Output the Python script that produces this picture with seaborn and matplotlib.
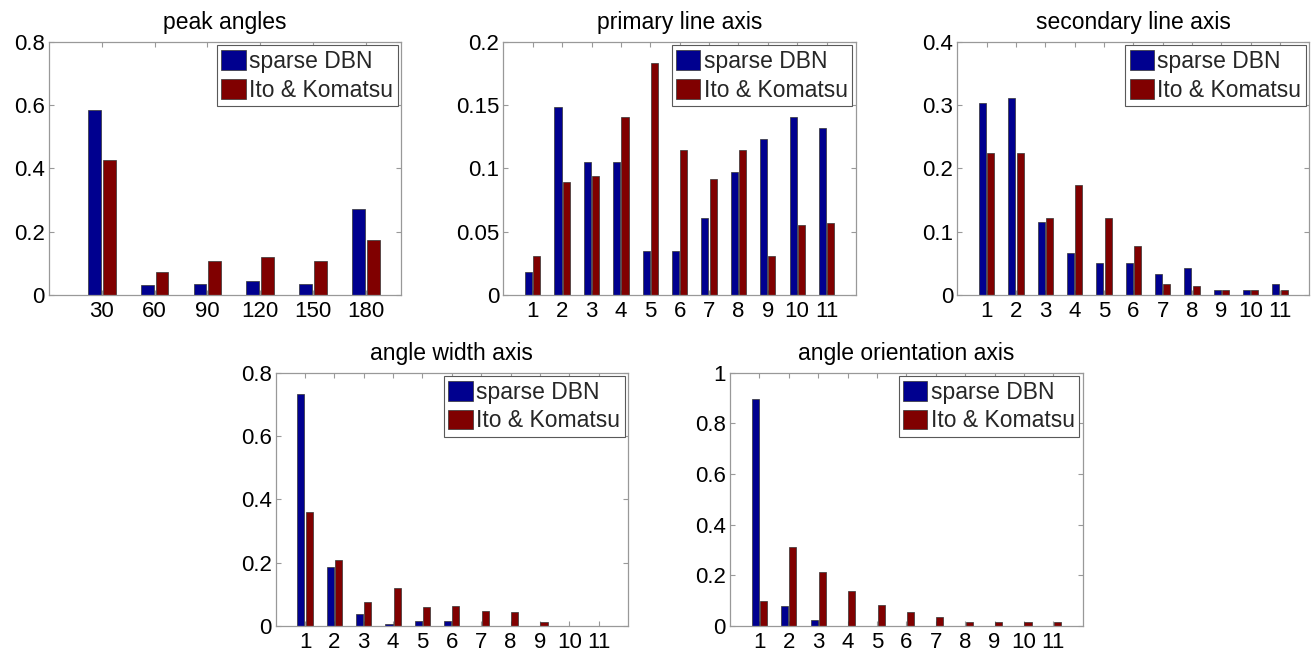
import matplotlib
matplotlib.use("Agg")
import matplotlib.pyplot as plt
import pandas as pd
import seaborn as sns
from matplotlib.ticker import FuncFormatter, FixedLocator

# ---------------- data ----------------
methods = ["sparse DBN", "Ito & Komatsu"]

peak_cats = ["30", "60", "90", "120", "150", "180"]
peak_dbn = [0.586, 0.032, 0.035, 0.045, 0.036, 0.271]
peak_ito = [0.427, 0.073, 0.107, 0.119, 0.107, 0.173]

axis_cats = ["1", "2", "3", "4", "5", "6", "7", "8", "9", "10", "11"]

primary_dbn = [0.018, 0.149, 0.105, 0.105, 0.035, 0.035, 0.061, 0.097, 0.123, 0.141, 0.132]
primary_ito = [0.031, 0.089, 0.094, 0.141, 0.183, 0.115, 0.092, 0.115, 0.031, 0.055, 0.057]

secondary_dbn = [0.304, 0.312, 0.115, 0.066, 0.050, 0.050, 0.033, 0.042, 0.008, 0.008, 0.017]
secondary_ito = [0.225, 0.225, 0.121, 0.174, 0.121, 0.078, 0.017, 0.015, 0.008, 0.008, 0.008]

width_dbn = [0.733, 0.185, 0.039, 0.007, 0.016, 0.016, 0.0, 0.0, 0.0, 0.0, 0.0]
width_ito = [0.361, 0.209, 0.077, 0.121, 0.059, 0.063, 0.048, 0.044, 0.014, 0.0, 0.0]

orient_dbn = [0.895, 0.080, 0.022, 0.0, 0.0, 0.0, 0.0, 0.0, 0.0, 0.0, 0.0]
orient_ito = [0.099, 0.312, 0.213, 0.137, 0.083, 0.057, 0.034, 0.016, 0.016, 0.016, 0.016]

titles = ["peak angles", "primary line axis", "secondary line axis",
          "angle width axis", "angle orientation axis"]
y_max = [0.8, 0.2, 0.4, 0.8, 1.0]
y_ticks = [[0, 0.2, 0.4, 0.6, 0.8],
           [0, 0.05, 0.1, 0.15, 0.2],
           [0, 0.1, 0.2, 0.3, 0.4],
           [0, 0.2, 0.4, 0.6, 0.8],
           [0, 0.2, 0.4, 0.6, 0.8, 1.0]]

panels = [
    (peak_cats, peak_dbn, peak_ito),
    (axis_cats, primary_dbn, primary_ito),
    (axis_cats, secondary_dbn, secondary_ito),
    (axis_cats, width_dbn, width_ito),
    (axis_cats, orient_dbn, orient_ito),
]

colors = ["#00008F", "#800000"]

# ---------------- style ----------------
sns.set_theme(style="white")
plt.rcParams["font.family"] = ["Liberation Sans", "DejaVu Sans"]
FS_TICK = 16
FS_TITLE = 16.5
FS_LEG = 16.5

fig = plt.figure(figsize=(13.16, 6.55), dpi=100)

rects = [
    (0.0372, 0.5496, 0.2675, 0.3863),
    (0.3825, 0.5496, 0.2679, 0.3863),
    (0.7274, 0.5496, 0.2675, 0.3863),
    (0.2095, 0.0443, 0.2677, 0.3867),
    (0.5547, 0.0443, 0.2680, 0.3867),
]

for i, (rect, (cats, dbn, ito)) in enumerate(zip(rects, panels)):
    ax = fig.add_axes(rect)
    df = pd.DataFrame({
        "cat": list(cats) + list(cats),
        "value": list(dbn) + list(ito),
        "method": [methods[0]] * len(cats) + [methods[1]] * len(cats),
    })
    sns.barplot(data=df, x="cat", y="value", hue="method", order=cats,
                hue_order=methods, palette=colors, saturation=1,
                width=0.56, gap=0.14, edgecolor="0.2", linewidth=0.5, ax=ax)
    # hide outlines of zero-height bars
    for p in ax.patches:
        if p.get_height() == 0:
            p.set_linewidth(0)

    n = len(cats)
    if i == 0:
        ax.set_xlim(-1, n - 1 + 2.0 / 3.0)
    else:
        ax.set_xlim(-1, n)
    ax.set_ylim(0, y_max[i])
    ax.yaxis.set_major_locator(FixedLocator(y_ticks[i]))
    ax.yaxis.set_major_formatter(FuncFormatter(lambda v, p: "%g" % round(v, 4)))
    ax.set_xlabel("")
    ax.set_ylabel("")
    ax.set_title(titles[i], fontsize=FS_TITLE, pad=9, color="black")

    for s in ax.spines.values():
        s.set_visible(True)
        s.set_color("0.6")
        s.set_linewidth(0.9)
    ax.tick_params(axis="both", which="major", direction="in", length=3.5,
                   width=0.8, color="0.6", labelcolor="black",
                   labelsize=FS_TICK, top=True, right=True, bottom=True, left=True)
    ax.tick_params(axis="x", pad=4)
    ax.tick_params(axis="y", pad=3)

    old = ax.get_legend()
    handles = old.legend_handles
    labels = [t.get_text() for t in old.get_texts()]
    old.remove()
    leg = ax.legend(handles, labels, loc="upper right", fontsize=FS_LEG,
                    frameon=True, fancybox=False, framealpha=1,
                    edgecolor="0.35", borderpad=0.2, borderaxespad=0.15,
                    handlelength=1.05, handleheight=0.95, handletextpad=0.15,
                    labelspacing=0.25)
    leg.get_frame().set_linewidth(0.8)

fig.savefig("out.png", dpi=100)
